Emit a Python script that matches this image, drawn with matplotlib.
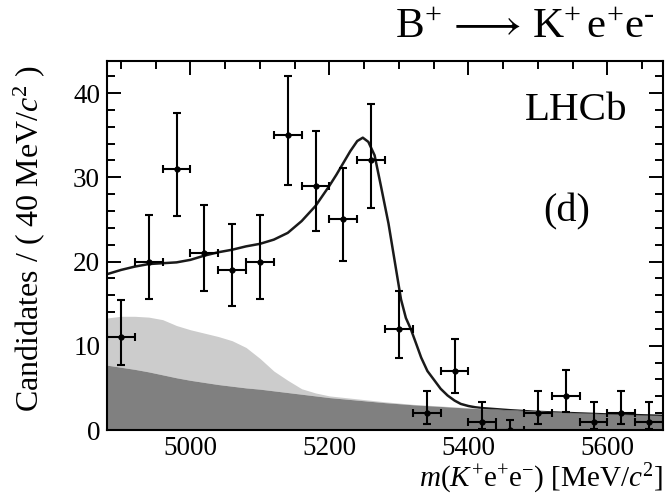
import numpy as np
import matplotlib.pyplot as plt
from matplotlib.ticker import MultipleLocator

plt.rcParams['font.family'] = ['Liberation Serif', 'DejaVu Serif']
plt.rcParams['mathtext.fontset'] = 'custom'
plt.rcParams['mathtext.rm'] = 'Liberation Serif'
plt.rcParams['mathtext.it'] = 'Liberation Serif:italic'
plt.rcParams['mathtext.bf'] = 'Liberation Serif:bold'

# binned data, 40 MeV bins
bin_centres = [4900, 4940, 4980, 5020, 5060, 5100, 5140, 5180, 5220, 5260,
               5300, 5340, 5380, 5420, 5460, 5500, 5540, 5580, 5620, 5660]
counts = [11, 20, 31, 21, 19, 20, 35, 29, 25, 32,
          12, 2, 7, 1, 0, 2, 4, 1, 2, 1]
err_lo = [3.26, 4.44, 5.55, 4.55, 4.33, 4.44, 5.89, 5.36, 4.97, 5.64,
          3.41, 1.29, 2.58, 0.83, 0.0, 1.29, 1.91, 0.83, 1.29, 0.83]
err_hi = [4.40, 5.58, 6.62, 5.68, 5.47, 5.58, 6.97, 6.44, 6.07, 6.71,
          4.54, 2.64, 3.77, 2.30, 1.15, 2.64, 3.16, 2.30, 2.64, 2.30]
half_width = 20

# background components (stacked)
bkg_mass = [4880, 4900, 4920, 4940, 4960, 4980, 5000, 5020, 5040, 5060,
            5080, 5100, 5120, 5140, 5160, 5180, 5200, 5240, 5280, 5320,
            5360, 5400, 5450, 5500, 5550, 5600, 5650, 5680]
comb_bkg = [7.7, 7.45, 7.2, 6.9, 6.55, 6.2, 5.9, 5.65, 5.4, 5.2,
            5.0, 4.85, 4.65, 4.45, 4.25, 4.05, 3.85, 3.55, 3.25, 3.0,
            2.8, 2.6, 2.4, 2.2, 2.05, 1.9, 1.78, 1.7]
part_reco_top = [13.3, 13.5, 13.5, 13.4, 13.1, 12.4, 11.9, 11.5, 11.1, 10.6,
                 9.8, 8.5, 7.0, 5.9, 4.9, 4.4, 4.05, 3.7, 3.35, 3.05,
                 2.85, 2.65, 2.45, 2.25, 2.08, 1.93, 1.8, 1.72]

# total fit
fit_mass = [4880, 4900, 4920, 4940, 4960, 4980, 5000, 5020, 5040, 5060,
            5080, 5100, 5120, 5140, 5160, 5180, 5200, 5210, 5220, 5230,
            5240, 5248, 5256, 5265, 5274, 5285, 5295, 5303, 5310, 5317,
            5325, 5332, 5341, 5351, 5360, 5370, 5380, 5389, 5400, 5410,
            5420, 5460, 5500, 5550, 5600, 5650, 5680]
fit_total = [18.5, 19.0, 19.4, 19.7, 19.8, 19.9, 20.2, 20.7, 21.1, 21.4,
             21.8, 22.1, 22.6, 23.4, 24.8, 26.6, 29.0, 30.3, 31.7, 33.1,
             34.3, 34.7, 34.2, 32.6, 29.0, 24.5, 19.5, 15.5, 13.3, 12.0,
             10.2, 8.6, 7.0, 5.9, 4.9, 4.1, 3.5, 3.1, 2.85, 2.7,
             2.6, 2.35, 2.15, 2.0, 1.85, 1.75, 1.68]


def style_axes(ax):
    ax.set_xlim(4880, 5680)
    ax.set_ylim(0, 43.8)
    ax.xaxis.set_major_locator(MultipleLocator(200))
    ax.xaxis.set_minor_locator(MultipleLocator(50))
    ax.yaxis.set_major_locator(MultipleLocator(10))
    ax.yaxis.set_minor_locator(MultipleLocator(2))
    ax.tick_params(which='both', direction='in', top=True, right=True,
                   width=1.4, labelsize=19.5)
    ax.tick_params(which='major', length=10)
    ax.tick_params(which='minor', length=6)
    ax.tick_params(axis='x', pad=4)
    ax.tick_params(axis='y', pad=5)
    for s in ax.spines.values():
        s.set_linewidth(1.5)


def main():
    fig = plt.figure(figsize=(6.65, 4.96), dpi=100)
    ax = fig.add_axes([0.161, 0.133, 0.836, 0.744])

    ax.plot(fit_mass, fit_total, color='#1a1a1a', lw=1.8, zorder=1)

    ax.fill_between(bkg_mass, comb_bkg, part_reco_top, color='#cccccc',
                    lw=0, zorder=2)
    ax.fill_between(bkg_mass, 0, comb_bkg, color='#808080', lw=0, zorder=2)

    ax.errorbar(bin_centres, counts, yerr=[err_lo, err_hi], xerr=half_width,
                fmt='o', ms=3.5, color='black', elinewidth=1.5,
                capsize=3, capthick=1.5, zorder=3)

    style_axes(ax)

    ax.set_ylabel(r'Candidates / ( 40 MeV/$c^{2}$ )', fontsize=23)
    ax.yaxis.set_label_coords(-0.108, 0.52)
    ax.set_xlabel(r'$m(K^{+}\mathrm{e}^{+}\mathrm{e}^{-})$ [MeV/$c^{2}$]',
                  fontsize=21, ha='right', va='top')
    ax.xaxis.set_label_coords(1.0, -0.086)

    ax.text(0.936, 0.865, 'LHCb', transform=ax.transAxes, fontsize=29.5,
            ha='right', va='center')
    ax.text(0.827, 0.59, '(d)', transform=ax.transAxes, fontsize=29,
            ha='center', va='center')
    fig.text(0.985, 0.944,
             r'$\mathrm{B}^{+}\,\longrightarrow\,\mathrm{K}^{+}\,\mathrm{e}^{+}\mathrm{e}^{\text{-}}$',
             fontsize=31, ha='right', va='center')

    fig.savefig('out.png', dpi=100)


if __name__ == '__main__':
    main()
